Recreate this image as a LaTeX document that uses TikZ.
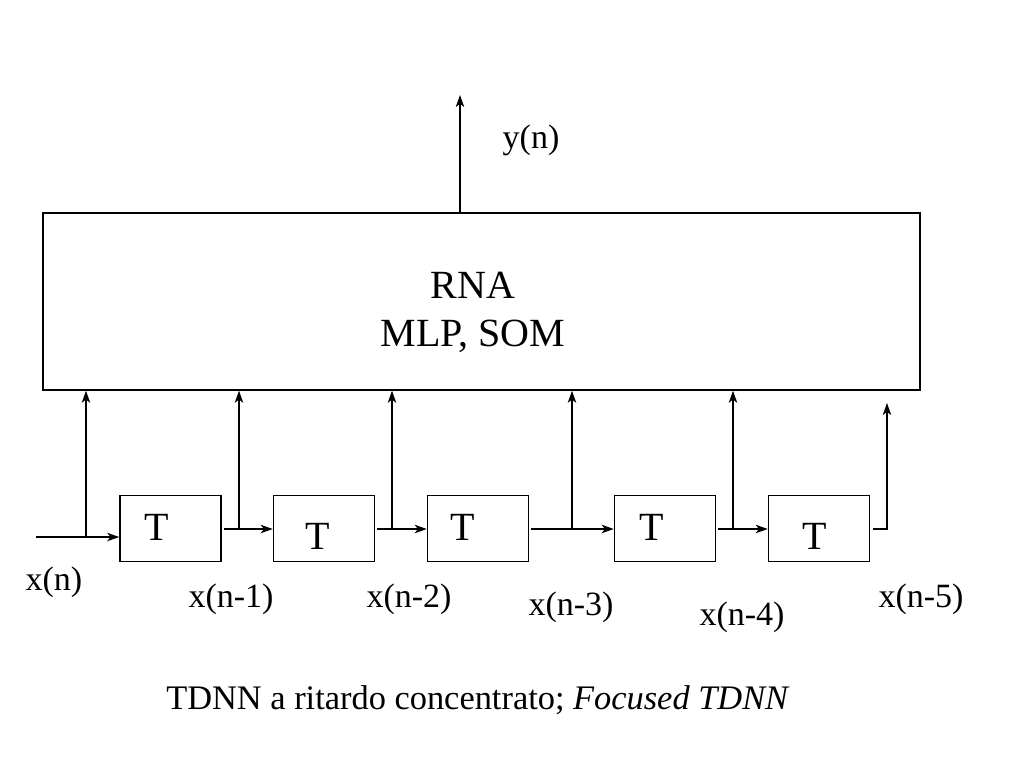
\documentclass[tikz,border=0pt]{standalone}
\usepackage{fontspec}
\setmainfont{Liberation Serif}
\usetikzlibrary{arrows.meta}
\begin{document}
\begin{tikzpicture}[x=0.5pt,y=-0.5pt,
  line width=0.75pt,
  arr/.style={-{Stealth[length=6pt,width=4.2pt,inset=1.6pt]}},
  tbox/.style={draw,minimum width=50.5pt,minimum height=33pt,inner sep=0pt},
  tlab/.style={font=\fontsize{20}{24}\selectfont,inner sep=0pt},
  sig/.style={font=\fontsize{17}{20}\selectfont,inner sep=0pt}]
\useasboundingbox (0,0) rectangle (1024,768);
% main block
\node[draw,minimum width=438.5pt,minimum height=88.5pt,inner sep=0pt] (rna) at (481.5,301.5) {};
\node[font=\fontsize{20}{24}\selectfont,align=center,inner sep=0pt] (rnatxt) at (473,312) {RNA\\MLP, SOM};
% delay boxes
\node[tbox] (b1) at (170.5,528.5) {};
\node[tbox] (b2) at (324,528.5) {};
\node[tbox] (b3) at (478,528.5) {};
\node[tbox] (b4) at (665,528.5) {};
\node[tbox] (b5) at (819,528.5) {};
\node[tlab] (t1) at (157,527) {T};
\node[tlab] (t2) at (318,536) {T};
\node[tlab] (t3) at (463,527) {T};
\node[tlab] (t4) at (652,527) {T};
\node[tlab] (t5) at (815,536) {T};
% coordinates
\coordinate (in0) at (36,537);
\coordinate (k0) at (86,537);
\coordinate (o1) at (224,529);
\coordinate (k1) at (239,529);
\coordinate (o2) at (377,529);
\coordinate (k2) at (392,529);
\coordinate (o3) at (531,529);
\coordinate (k3) at (572,529);
\coordinate (o4) at (718,529);
\coordinate (k4) at (733,529);
\coordinate (o5) at (873,529);
\coordinate (k5) at (887,529);
\coordinate (e5) at (887,403);
\coordinate (yout) at (460,95);
% connectors
\draw[arr] (in0) -- (in0 -| b1.west);
\draw[arr] (k0) -- (k0 |- rna.south);
\draw[arr] (o1) -- (o1 -| b2.west);
\draw[arr] (k1) -- (k1 |- rna.south);
\draw[arr] (o2) -- (o2 -| b3.west);
\draw[arr] (k2) -- (k2 |- rna.south);
\draw[arr] (o3) -- (o3 -| b4.west);
\draw[arr] (k3) -- (k3 |- rna.south);
\draw[arr] (o4) -- (o4 -| b5.west);
\draw[arr] (k4) -- (k4 |- rna.south);
\draw[arr] (o5) -- (k5) -- (e5);
\draw[arr] (yout |- rna.north) -- (yout);
% labels
\node[sig] (ly) at (531,140) {y(n)};
\node[sig] (l0) at (54,582) {x(n)};
\node[sig] (l1) at (231,599) {x(n-1)};
\node[sig] (l2) at (409,599) {x(n-2)};
\node[sig] (l3) at (571,607) {x(n-3)};
\node[sig] (l4) at (742,617) {x(n-4)};
\node[sig] (l5) at (921,599) {x(n-5)};
\node[font=\fontsize{17.2}{20}\selectfont,inner sep=0pt] (title) at (478,700) {TDNN a ritardo concentrato; \textit{Focused TDNN}};
\end{tikzpicture}
\end{document}
